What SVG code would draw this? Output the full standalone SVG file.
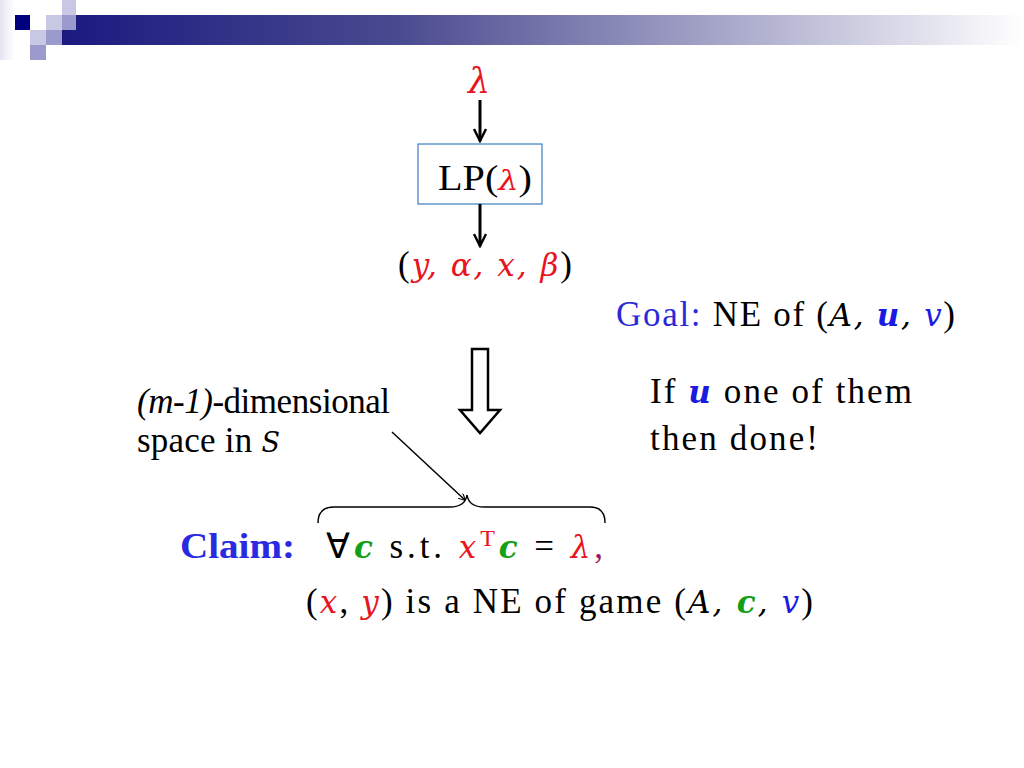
<svg xmlns="http://www.w3.org/2000/svg" width="1024" height="768" viewBox="0 0 1024 768">
<defs>
<linearGradient id="bar" x1="0" x2="1" y1="0" y2="0">
<stop offset="0" stop-color="#1a1a80"/><stop offset="0.35" stop-color="#4a4a90"/><stop offset="0.75" stop-color="#b8b8d4"/><stop offset="1" stop-color="#ffffff"/>
</linearGradient>
<linearGradient id="fade" x1="0" x2="1"><stop offset="0" stop-color="#e4e4f0"/><stop offset="1" stop-color="#fff"/></linearGradient>
<marker id="ah" viewBox="0 0 10 10" refX="9" refY="5" markerWidth="7" markerHeight="7" orient="auto" markerUnits="userSpaceOnUse"><path d="M0,0 L10,5 L0,10" fill="none" stroke="#000" stroke-width="1.5"/></marker>
<marker id="thick" viewBox="0 0 10 10" refX="9" refY="5" markerWidth="5" markerHeight="5" orient="auto"><path d="M1,1 L9,5 L1,9" fill="none" stroke="#000" stroke-width="1.6"/></marker>
</defs>
<style>
.t{font-family:"Liberation Serif","Times New Roman",serif;font-size:35px;fill:#000}
.m{font-family:"DejaVu Serif","Liberation Serif",serif;font-style:italic}
.r{fill:#e8141e}.b{fill:#1a1ae0}.g{fill:#14a014}
</style>
<rect width="1024" height="768" fill="#fff"/>
<g id="banner">
<rect x="0" y="0" width="14" height="60" fill="url(#fade)"/>
<rect x="62" y="15" width="962" height="30" fill="url(#bar)"/>
<rect x="15" y="15" width="15" height="15" fill="#00007f"/>
<rect x="62" y="0" width="14" height="15" fill="#c8c8e4"/>
<rect x="46" y="15" width="16" height="15" fill="#c8c8e4"/>
<rect x="62" y="15" width="14" height="15" fill="#9a9acc"/>
<rect x="30" y="30" width="16" height="15" fill="#c8c8e4"/>
<rect x="46" y="30" width="16" height="15" fill="#9a9acc"/>
<rect x="30" y="45" width="16" height="15" fill="#9a9acc"/>
</g>
<g id="lambda"><text x="479" y="93" class="t m r" text-anchor="middle" font-size="28">λ</text></g>
<g id="lp">
<rect x="418" y="144" width="124" height="60" fill="#fff" stroke="#3a7cc0" stroke-width="1.2"/>
<text x="438" y="190" class="t" font-size="32" textLength="94" lengthAdjust="spacingAndGlyphs">LP(<tspan class="m r" font-size="28">λ</tspan>)</text>
</g>
<g id="out"><text x="398" y="276" class="t" textLength="174" lengthAdjust="spacing">(<tspan class="m r" font-size="31">y, α, x, β</tspan>)</text></g>
<g id="goal"><text x="616" y="326" class="t" textLength="339" lengthAdjust="spacing"><tspan style="fill:#2a2ad8">Goal:</tspan> NE of (<tspan class="m" font-size="31">A, <tspan font-weight="bold" class="b">u</tspan>, <tspan class="b">v</tspan></tspan>)</text></g>
<g id="ifu"><text x="650" y="403" class="t" textLength="262" lengthAdjust="spacing">If <tspan class="m b" font-weight="bold" font-size="31">u</tspan> one of them</text><text x="650" y="450" class="t" textLength="168" lengthAdjust="spacing">then done!</text></g>
<g id="dim"><text x="137" y="413" class="t" font-size="27" textLength="253" lengthAdjust="spacing"><tspan font-style="italic">(m-1)</tspan>-dimensional</text><text x="137" y="452" class="t" font-size="27" textLength="143" lengthAdjust="spacing">space in <tspan class="m" font-size="27">S</tspan></text></g>
<g id="claim">
<text x="180" y="558" class="t" font-size="36" font-weight="bold" style="fill:#2a2ae0" textLength="115" lengthAdjust="spacingAndGlyphs">Claim:</text>
<text x="326" y="558" class="t" textLength="277" lengthAdjust="spacing">∀<tspan class="m g" font-weight="bold" font-size="31">c</tspan>  s.t.  <tspan class="m r" font-size="31">x</tspan><tspan class="r" font-size="24" dy="-12">T</tspan><tspan class="m g" font-weight="bold" font-size="31" dy="12">c</tspan> = <tspan class="m r" font-size="31">λ</tspan><tspan fill="#9a1a60">,</tspan></text>
<text x="306" y="613" class="t" textLength="507" lengthAdjust="spacing">(<tspan class="m r" font-size="31">x</tspan>, <tspan class="m r" font-size="31">y</tspan>) is a NE of game (<tspan class="m" font-size="31">A, <tspan class="g" font-weight="bold">c</tspan>, <tspan class="b">v</tspan></tspan>)</text>
</g>
<g id="connectors" fill="none" stroke="#000">
<line x1="480" y1="100" x2="480" y2="141" stroke-width="3" marker-end="url(#thick)"/>
<line x1="480" y1="204" x2="480" y2="246" stroke-width="3" marker-end="url(#thick)"/>
<path d="M472,349 H488 V410 H500 L480,433 L460,410 H472 Z" stroke-width="2.5" fill="#fff"/>
<line x1="392" y1="432" x2="465" y2="500" stroke-width="1.5" marker-end="url(#ah)"/>
<path d="M318,523 Q318,507 334,507 H450 Q465,507 467,495 Q469,507 484,507 H590 Q605,507 605,523" stroke-width="1.5"/>
</g>
</svg>
